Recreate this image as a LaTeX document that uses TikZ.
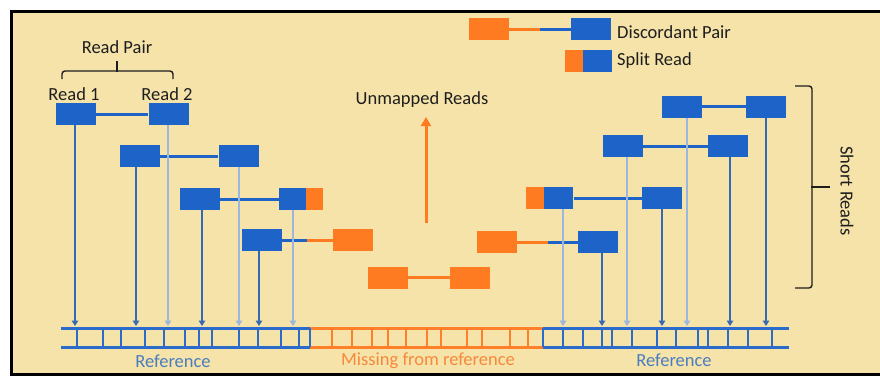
\documentclass[tikz,border=0pt]{standalone}
\usepackage{fontspec}
\setmainfont{Carlito}
\usetikzlibrary{calc,arrows.meta,positioning}

\definecolor{bgtan}{HTML}{F5E3A9}
\definecolor{readblue}{HTML}{1E64C8}
\definecolor{readorange}{HTML}{FF7B21}
\definecolor{darkline}{HTML}{3469B3}
\definecolor{lightline}{HTML}{9BB7DF}
\definecolor{barblue}{HTML}{2A6BCB}
\definecolor{barorange}{HTML}{FF7F2A}
\definecolor{reftext}{HTML}{4A7DC0}
\definecolor{misstext}{HTML}{F7893B}
\definecolor{ink}{HTML}{1E1E1E}

\tikzset{
    read/.style={rectangle, fill=readblue, inner sep=0pt, minimum width=40pt, minimum height=22pt},
    oread/.style={read, fill=readorange},
    link/.style={readblue, line width=3pt},
    olink/.style={readorange, line width=3pt},
    hit/.style={darkline, line width=1.7pt, -{Triangle[width=6.5pt,length=5.5pt]}},
    softhit/.style={lightline, line width=1.5pt, -{Triangle[width=6.5pt,length=5.5pt]}},
    txt/.style={font=\fontsize{18.5}{22}\selectfont, inner sep=0pt, text=ink},
    brace/.style={ink, line width=1.4pt, rounded corners=3pt},
}

\begin{document}
\begin{tikzpicture}[x=1pt, y=-1pt]
\useasboundingbox (0,0) rectangle (880,376);

% Frame
\fill[white] (0,0) rectangle (880,376);
\filldraw[fill=bgtan, draw=black, line width=3pt] (11.5,11.5) rectangle (886,374);

% Reference bar
\begin{scope}
    \draw[barorange, line width=3pt] (310,328) -- (543,328) (310,347) -- (543,347);
    \foreach \x in {332,352,372,388,406,427,441,467,482,510,528} {
        \draw[barorange, line width=1.8pt] (\x,328) -- (\x,347);
    }
    \draw[barblue, line width=3pt] (61,328) -- (310,328) (61,347) -- (310,347);
    \draw[barblue, line width=3pt] (543,328) -- (789,328) (543,347) -- (789,347);
    \foreach \x in {77,103,121,145,164,185,199,212,239,258,281,299,310,
                    543,563,583,602,612,632,657,676,698,708,728,748,772} {
        \draw[barblue, line width=1.8pt] (\x,328) -- (\x,347);
    }
    \node[txt, text=reftext, anchor=base] (ref1) at (173,367) {Reference};
    \node[txt, text=misstext, anchor=base] (miss) at (428,365) {Missing from reference};
    \node[txt, text=reftext, anchor=base] (ref2) at (674,366) {Reference};
\end{scope}

% Left side: concordant pairs
\node[read] (a1) at (75.5,114) {};
\node[read] (b1) at (168.5,114) {};
\node[read] (a2) at (139.5,156) {};
\node[read] (b2) at (238.5,156) {};
\node[read] (a3) at (199.5,199) {};
\node[read, minimum width=27pt] (b3) at (292.5,199) {};
\node[oread, minimum width=17pt, anchor=west] (b3s) at (b3.east) {};
\node[read] (a4) at (261.5,240) {};
\node[oread] (b4) at (353,240) {};

\draw[link] (a1.east) -- (b1.west);
\draw[link] (a2.east) -- (b2.west);
\draw[link] (a3.east) -- (b3.west);
\coordinate (m4) at ($(a4.east)!0.5!(b4.west)$);
\draw[link] (a4.east) -- (m4);
\draw[olink] (m4) -- (b4.west);

\node[txt, anchor=base] (rd1) at (74,100) {Read 1};
\node[txt, anchor=base] (rd2) at (167,100) {Read 2};
\node[txt, anchor=base] (rp) at (117,53) {Read Pair};
\draw[brace] (62,79) |- (117,71);
\draw[brace] (173,79) |- (117,71);
\draw[ink, line width=1.4pt] (117,72) -- (117,61);

% Unmapped reads
\node[oread] (u1) at (388,277.5) {};
\node[oread] (u2) at (470,277.5) {};
\draw[olink] (u1.east) -- (u2.west);
\node[txt, anchor=base] (um) at (422,104) {Unmapped Reads};
\coordinate (upbase) at (426,223);
\coordinate (uptip) at (426,117);
\draw[olink, -{Triangle[width=10pt,length=9pt]}] (upbase) -- (uptip);

% Right side
\node[read] (c1) at (682,106.5) {};
\node[read] (d1) at (766,106.5) {};
\node[read] (c2) at (623,146) {};
\node[read] (d2) at (728,146) {};
\node[oread, minimum width=18pt] (c3s) at (535,198) {};
\node[read, minimum width=29pt, anchor=west] (c3) at (c3s.east) {};
\node[read] (d3) at (662,198) {};
\node[oread] (c4) at (497,242) {};
\node[read] (d4) at (598,242) {};

\draw[link] (c1.east) -- (d1.west);
\draw[link] (c2.east) -- (d2.west);
\draw[link] (c3.east) -- (d3.west);
\coordinate (n4) at ($(c4.east)!0.5!(d4.west)$);
\draw[olink] (c4.east) -- (n4);
\draw[link] (n4) -- (d4.west);

\draw[brace] (795,86) -| (812,187);
\draw[brace] (795,288) -| (812,187);
\draw[ink, line width=1.4pt] (811,187) -- (830,187);
\node[txt, rotate=-90] (sr) at (847,191) {Short Reads};

% Mapping arrows down to the reference
\foreach \n/\x in {a1/75, a2/136, a3/202, a4/259, d4/602, d3/662, d2/730, d1/766} {
    \coordinate (h\n) at (\x,326);
    \draw[hit] (\n.south -| h\n) -- (h\n);
}
\foreach \n/\x in {b1/168, b2/239, b3/293, c3/563, c2/627, c1/687} {
    \coordinate (h\n) at (\x,326);
    \draw[softhit] (\n.south -| h\n) -- (h\n);
}

% Legend
\node[oread] (lg1) at (489,29) {};
\node[read] (lg2) at (591,29) {};
\coordinate (lgm) at ($(lg1.east)!0.5!(lg2.west)$);
\draw[olink] (lg1.east) -- (lgm);
\draw[link] (lgm) -- (lg2.west);
\node[txt, anchor=base west] (tdis) at (617,38) {Discordant Pair};
\node[oread, minimum width=18pt] (ls1) at (574,60.5) {};
\node[read, minimum width=29pt, anchor=west] (ls2) at (ls1.east) {};
\node[txt, anchor=base west] (tsplit) at (617,65) {Split Read};

\end{tikzpicture}
\end{document}
